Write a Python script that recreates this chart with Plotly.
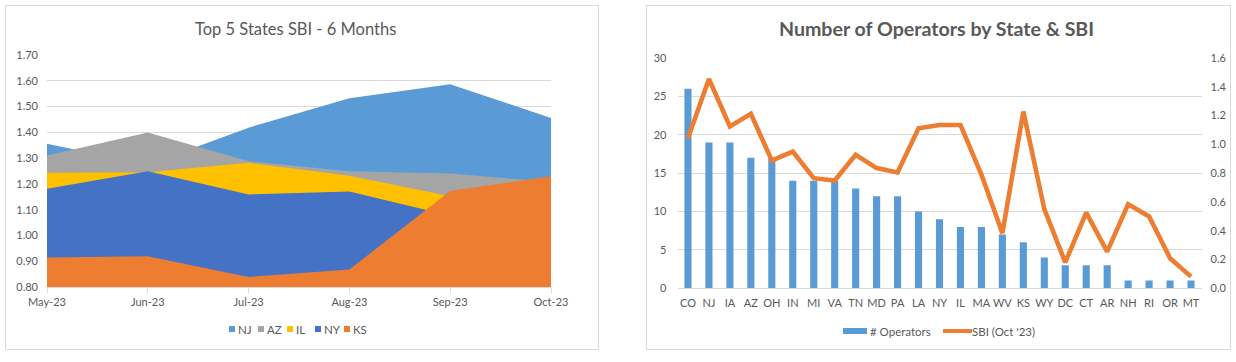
import plotly.graph_objects as go

# ---- Left chart data (overlapping areas) ----
months = ["May-23", "Jun-23", "Jul-23", "Aug-23", "Sep-23", "Oct-23"]
nj = [1.356, 1.274, 1.418, 1.532, 1.587, 1.456]
az = [1.310, 1.399, 1.288, 1.249, 1.240, 1.207]
il = [1.243, 1.245, 1.282, 1.232, 1.152, 1.180]
ny = [1.181, 1.249, 1.159, 1.170, 1.076, 1.100]
ks = [0.914, 0.919, 0.839, 0.868, 1.172, 1.230]
area_names = ["NJ", "AZ", "IL", "NY", "KS"]
area_colors = ["#5b9bd5", "#a5a5a5", "#ffc000", "#4472c4", "#ed7d31"]

# ---- Right chart data ----
states = ["CO", "NJ", "IA", "AZ", "OH", "IN", "MI", "VA", "TN", "MD", "PA", "LA", "NY",
          "IL", "MA", "WV", "KS", "WY", "DC", "CT", "AR", "NH", "RI", "OR", "MT"]
operators = [26, 19, 19, 17, 17, 14, 14, 14, 13, 12, 12, 10, 9, 8, 8, 7, 6, 4, 3, 3, 3, 1, 1, 1, 1]
sbi_oct = [1.043, 1.454, 1.124, 1.212, 0.888, 0.950, 0.765, 0.749, 0.927, 0.835, 0.805,
           1.112, 1.135, 1.135, 0.790, 0.383, 1.228, 0.550, 0.180, 0.526, 0.255, 0.584,
           0.499, 0.209, 0.081]
bar_name = "# Operators"
line_name = "SBI (Oct '23)"
bar_color = "#5b9bd5"
line_color = "#ed7d31"

FONT = "Lato, Carlito, Calibri, 'Liberation Sans', sans-serif"
TXT = "#595959"
GRID = "#d9d9d9"
W, H = 1236, 362

def px(x):
    return x / W

def py(y):
    return (H - y) / H

fig = go.Figure()

for name, vals, col in zip(area_names, [nj, az, il, ny, ks], area_colors):
    fig.add_trace(go.Scatter(
        x=months, y=vals, name=name, mode="lines", fill="tozeroy",
        fillcolor=col, line=dict(width=0, color=col),
        xaxis="x", yaxis="y", hoverinfo="x+y+name"))

fig.add_trace(go.Bar(
    x=states, y=operators, name=bar_name, marker=dict(color=bar_color, line=dict(width=0)),
    width=0.34, xaxis="x2", yaxis="y2"))
fig.add_trace(go.Scatter(
    x=states, y=sbi_oct, name=line_name, mode="lines",
    line=dict(color=line_color, width=4.6), xaxis="x2", yaxis="y3"))

tickfont = dict(family=FONT, size=11, color=TXT)
legfont = dict(family=FONT, size=11.5, color=TXT)

annotations = [
    dict(text="Top 5 States SBI - 6 Months", x=px(295), y=py(29), xref="paper", yref="paper",
         showarrow=False, xanchor="center", yanchor="middle",
         font=dict(family=FONT, size=16.5, color=TXT)),
    dict(text="<b>Number of Operators by State &amp; SBI</b>", x=px(936), y=py(29),
         xref="paper", yref="paper", showarrow=False, xanchor="center", yanchor="middle",
         font=dict(family=FONT, size=19.6, color=TXT)),
]
shapes = [
    dict(type="rect", xref="paper", yref="paper", x0=px(5.5), x1=px(598.5), y0=py(349.5), y1=py(5.5),
         line=dict(color=GRID, width=1), fillcolor="rgba(0,0,0,0)", layer="below"),
    dict(type="rect", xref="paper", yref="paper", x0=px(646.5), x1=px(1230.5), y0=py(349.5), y1=py(5.5),
         line=dict(color=GRID, width=1), fillcolor="rgba(0,0,0,0)", layer="below"),
]

# Left legend (compact, Excel style)
leg_sq_x = [229, 258, 287, 315, 344]
for name, col, sx in zip(area_names, area_colors, leg_sq_x):
    shapes.append(dict(type="rect", xref="paper", yref="paper",
                       x0=px(sx), x1=px(sx + 6), y0=py(332), y1=py(326),
                       fillcolor=col, line=dict(width=0)))
    annotations.append(dict(text=name, x=px(sx + 7), y=py(329), xref="paper", yref="paper",
                            showarrow=False, xanchor="left", yanchor="middle", font=legfont))

# Right legend
shapes.append(dict(type="rect", xref="paper", yref="paper", x0=px(843), x1=px(867),
                   y0=py(334), y1=py(328), fillcolor=bar_color, line=dict(width=0)))
annotations.append(dict(text=bar_name, x=px(868), y=py(331), xref="paper", yref="paper",
                        showarrow=False, xanchor="left", yanchor="middle", font=legfont))
shapes.append(dict(type="line", xref="paper", yref="paper", x0=px(943), x1=px(972),
                   y0=py(331), y1=py(331), line=dict(color=line_color, width=4)))
annotations.append(dict(text=line_name, x=px(970), y=py(331), xref="paper", yref="paper",
                        showarrow=False, xanchor="left", yanchor="middle", font=legfont))

fig.update_layout(
    width=W, height=H,
    margin=dict(l=0, r=0, t=0, b=0, autoexpand=False),
    paper_bgcolor="white", plot_bgcolor="white",
    font=dict(family=FONT, color=TXT),
    barmode="overlay",
    showlegend=False,
    xaxis=dict(domain=[px(47), px(551)], type="category", range=[0, 5],
               showgrid=False, showline=True, linecolor=GRID, linewidth=1,
               ticks="outside", ticklen=5, tickcolor=GRID, tickfont=tickfont,
               tickangle=0, anchor="y", automargin=False),
    yaxis=dict(domain=[py(287), py(55)], range=[0.8, 1.7], dtick=0.1, tickformat=".2f",
               showgrid=True, gridcolor=GRID, gridwidth=1, zeroline=False,
               showline=False, tickfont=tickfont, ticklabelstandoff=8, anchor="x",
               automargin=False),
    xaxis2=dict(domain=[px(677.5), px(1201.5)], type="category", range=[-0.5, 24.5],
                showgrid=False, showline=True, linecolor=GRID, linewidth=1,
                ticks="", tickfont=tickfont, tickangle=0, ticklabelstandoff=4,
                anchor="y2", automargin=False),
    yaxis2=dict(domain=[py(288.3), py(58)], range=[0, 30], dtick=5,
                showgrid=True, gridcolor=GRID, gridwidth=1, zeroline=False,
                showline=False, tickfont=tickfont, ticklabelstandoff=10, anchor="x2",
                automargin=False),
    yaxis3=dict(overlaying="y2", side="right", range=[0, 1.6], dtick=0.2, tickformat=".1f",
                showgrid=False, zeroline=False, showline=False, tickfont=tickfont,
                ticklabelstandoff=8, anchor="x2", automargin=False),
    annotations=annotations,
    shapes=shapes,
)

fig.write_html("out.html", config={"displayModeBar": False},
               post_script="document.body.style.margin='0';document.body.style.overflow='hidden';")
